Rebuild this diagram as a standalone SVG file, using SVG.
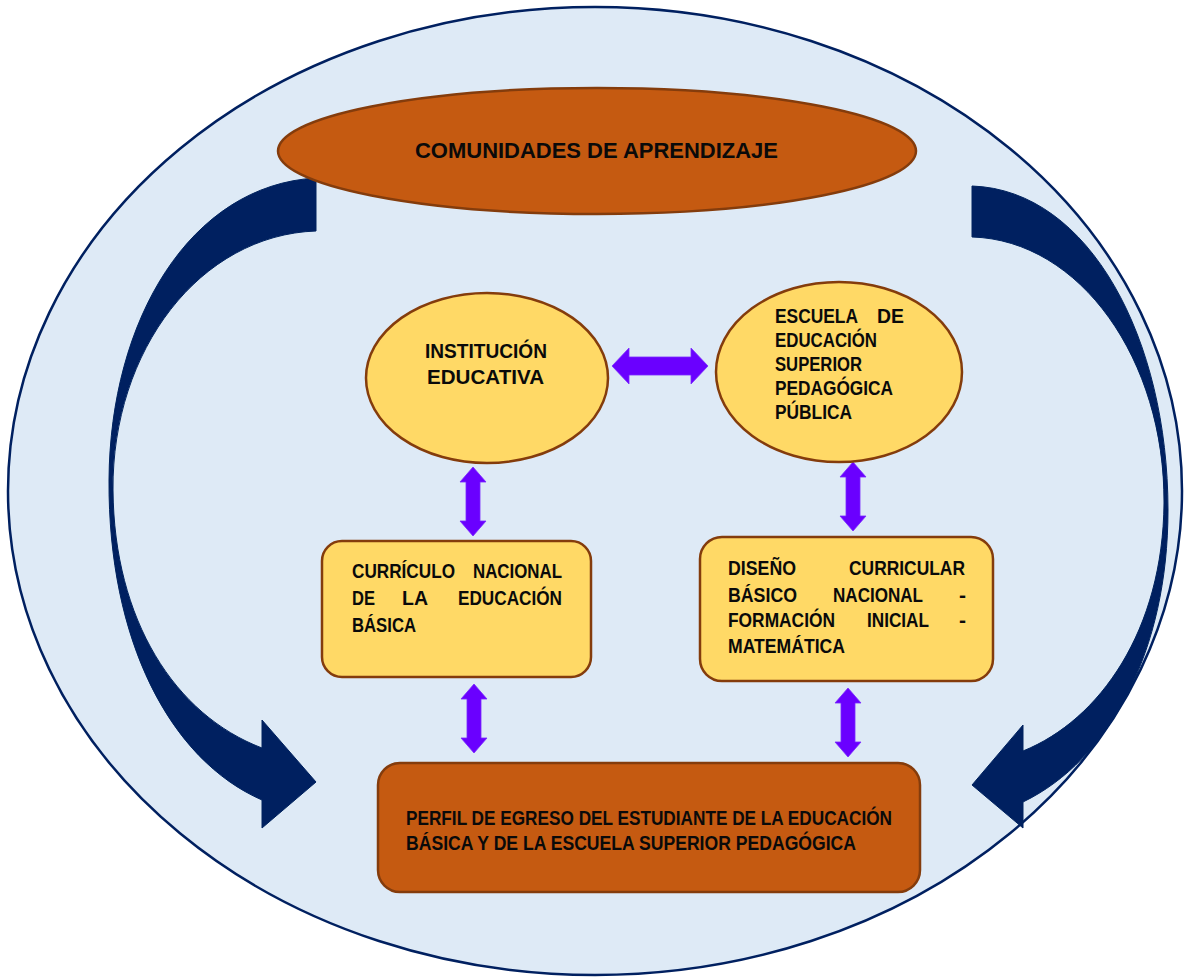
<svg xmlns="http://www.w3.org/2000/svg" width="1184" height="978" viewBox="0 0 1184 978">
<defs>
<style>
.bg{fill:#DEEAF6;stroke:#002060;stroke-width:2.5}
.curve{fill:#002060;stroke:#00235f;stroke-width:1}
.yel{fill:#FFD966;stroke:#843C0C;stroke-width:2.5}
.org{fill:#C55A11;stroke:#843C0C;stroke-width:2.5}
.dbl{fill:#6A00FF;stroke:#7a2aff;stroke-width:0.8}
text{font-family:"Liberation Sans Narrow","Liberation Sans",Arial,sans-serif;font-weight:bold;font-size:21px;fill:#0a0a0a}
.cal{font-family:"Liberation Sans",Arial,sans-serif;font-size:22px}
</style>
<polygon id="va" points="0,0 13,15 7,15 7,54 13,54 0,69 -13,54 -7,54 -7,15 -13,15"/>
</defs>
<ellipse class="bg" cx="595" cy="491" rx="587" ry="484"/>
<g id="connectors">
<path class="curve" d="M316,178 C190,185 110,320 109,480 C108,640 170,760 262,800 L262,828 L316,782 L262,720 L262,748 C175,715 114,620 113,490 C112,350 200,235 316,231 Z"/>
<path class="curve" d="M972,186 C1090,190 1168,340 1168,510 C1168,650 1110,760 1023,802 L1023,828 L972,785 L1023,725 L1023,751 C1100,720 1163,630 1164,503 C1165,360 1080,240 972,237 Z"/>
<polygon class="dbl" points="612,366 629,348 629,357 691,357 691,348 708,366 691,384 691,375 629,375 629,384"/>
<use href="#va" class="dbl" x="473" y="467"/>
<use href="#va" class="dbl" x="474" y="684"/>
<use href="#va" class="dbl" x="853" y="462"/>
<use href="#va" class="dbl" x="848" y="688"/>
</g>
<g id="comunidades">
<ellipse class="org" cx="597" cy="151" rx="319" ry="63"/>
<text class="cal" x="415" y="158" textLength="363" lengthAdjust="spacingAndGlyphs">COMUNIDADES DE APRENDIZAJE</text>
</g>
<g id="institucion">
<ellipse class="yel" cx="487" cy="378" rx="121" ry="85"/>
<text x="425" y="358" textLength="122" lengthAdjust="spacingAndGlyphs">INSTITUCIÓN</text>
<text x="427" y="384" textLength="117" lengthAdjust="spacingAndGlyphs">EDUCATIVA</text>
</g>
<g id="escuela">
<ellipse class="yel" cx="839" cy="372" rx="123" ry="90"/>
<text x="775" y="323" textLength="83" lengthAdjust="spacingAndGlyphs">ESCUELA</text>
<text x="877" y="323" textLength="27" lengthAdjust="spacingAndGlyphs">DE</text>
<text x="775" y="347" textLength="102" lengthAdjust="spacingAndGlyphs">EDUCACIÓN</text>
<text x="775" y="371" textLength="87" lengthAdjust="spacingAndGlyphs">SUPERIOR</text>
<text x="775" y="395" textLength="118" lengthAdjust="spacingAndGlyphs">PEDAGÓGICA</text>
<text x="775" y="419" textLength="77" lengthAdjust="spacingAndGlyphs">PÚBLICA</text>
</g>
<g id="curriculo">
<rect class="yel" x="322" y="541" width="269" height="136" rx="20"/>
<text x="352" y="578" textLength="103" lengthAdjust="spacingAndGlyphs">CURRÍCULO</text>
<text x="473" y="578" textLength="89" lengthAdjust="spacingAndGlyphs">NACIONAL</text>
<text x="352" y="605" textLength="23" lengthAdjust="spacingAndGlyphs">DE</text>
<text x="402" y="605" textLength="26" lengthAdjust="spacingAndGlyphs">LA</text>
<text x="458" y="605" textLength="104" lengthAdjust="spacingAndGlyphs">EDUCACIÓN</text>
<text x="352" y="632" textLength="64" lengthAdjust="spacingAndGlyphs">BÁSICA</text>
</g>
<g id="diseno">
<rect class="yel" x="700" y="537" width="293" height="144" rx="22"/>
<text x="728" y="575" textLength="68" lengthAdjust="spacingAndGlyphs">DISEÑO</text>
<text x="849" y="575" textLength="116" lengthAdjust="spacingAndGlyphs">CURRICULAR</text>
<text x="728" y="602" textLength="69" lengthAdjust="spacingAndGlyphs">BÁSICO</text>
<text x="833" y="602" textLength="90" lengthAdjust="spacingAndGlyphs">NACIONAL</text>
<text x="959" y="602">-</text>
<text x="728" y="627" textLength="107" lengthAdjust="spacingAndGlyphs">FORMACIÓN</text>
<text x="867" y="627" textLength="62" lengthAdjust="spacingAndGlyphs">INICIAL</text>
<text x="959" y="627">-</text>
<text x="728" y="653" textLength="117" lengthAdjust="spacingAndGlyphs">MATEMÁTICA</text>
</g>
<g id="perfil">
<rect class="org" x="378" y="763" width="542" height="129" rx="22"/>
<text x="406" y="825" textLength="486" lengthAdjust="spacingAndGlyphs">PERFIL DE EGRESO DEL ESTUDIANTE DE LA EDUCACIÓN</text>
<text x="406" y="850" textLength="450" lengthAdjust="spacingAndGlyphs">BÁSICA Y DE LA ESCUELA SUPERIOR PEDAGÓGICA</text>
</g>
</svg>
